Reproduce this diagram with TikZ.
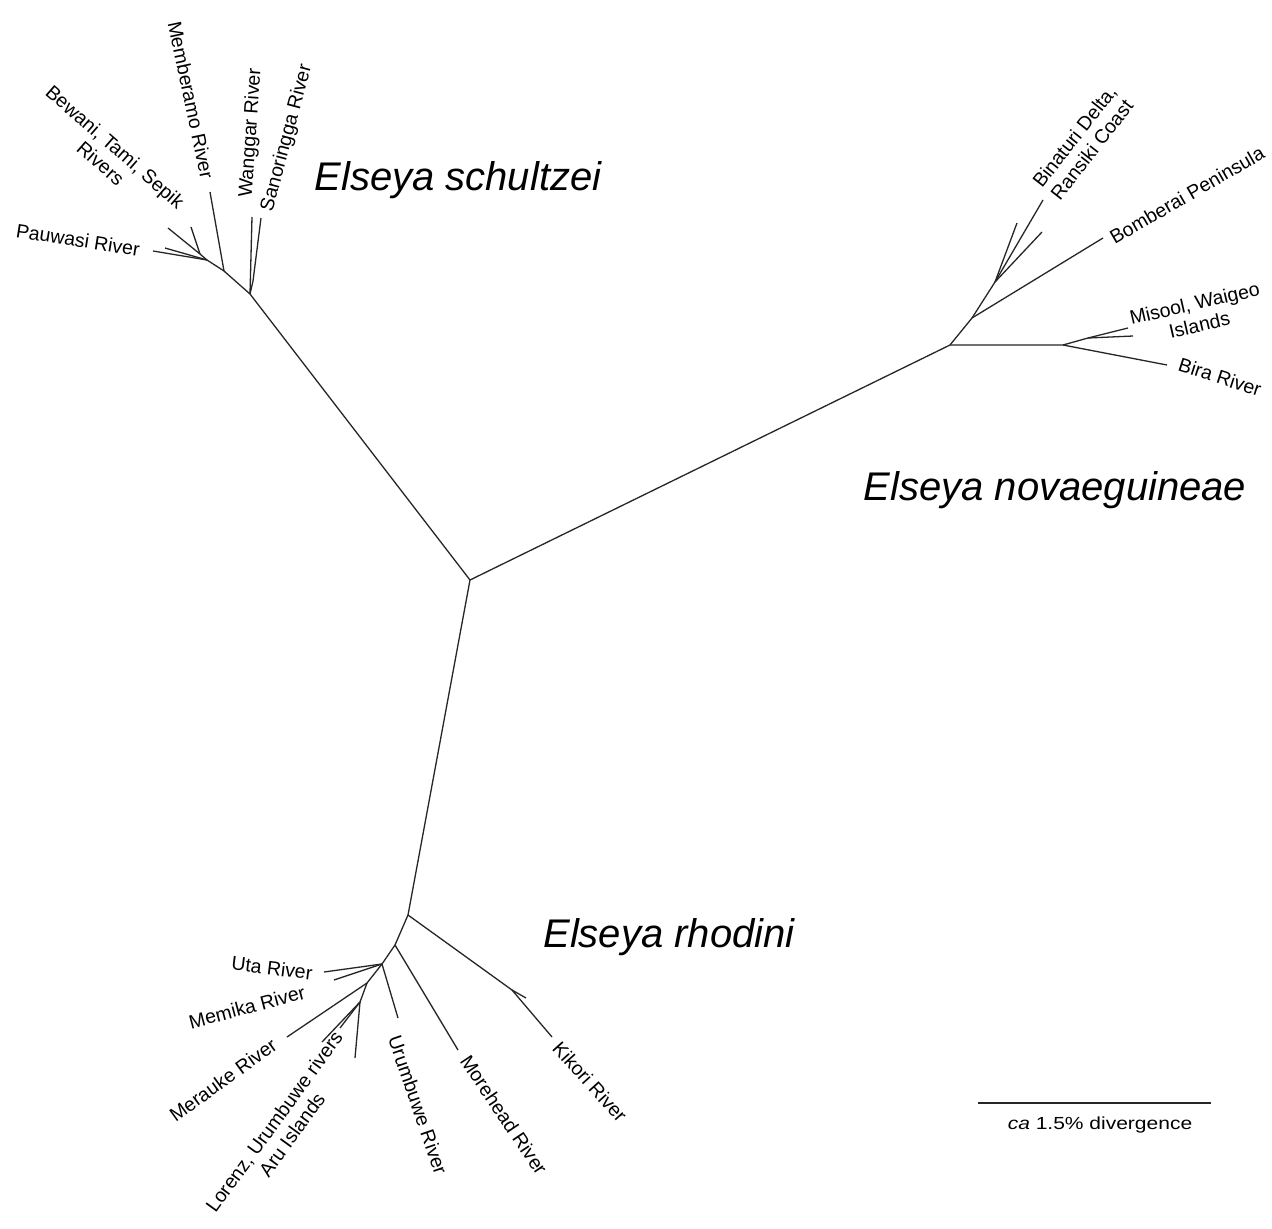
\documentclass[tikz,border=0pt]{standalone}
\usepackage{fontspec}
\setmainfont{Liberation Sans}
\begin{document}
\begin{tikzpicture}[x=1pt,y=-1pt,
  br/.style={draw=black!85, line width=1.3pt},
  lab/.style={font=\fontsize{19.5}{22}\selectfont, inner sep=0pt, align=center},
  sp/.style={font=\fontsize{40}{44}\selectfont\itshape, inner sep=0pt},
  scl/.style={font=\fontsize{17.5}{20}\selectfont, inner sep=0pt, xscale=1.2}]
\useasboundingbox[fill=white] (0,0) rectangle (1272,1229);
% main nodes
\coordinate (C) at (470,580);
\coordinate (S) at (250,294);
\coordinate (N) at (950,345);
\coordinate (R) at (408,915);
% schultzei
\coordinate (A) at (224,271);
\coordinate (B) at (207,260);
\coordinate (B2) at (200,254);
\coordinate (S3) at (253,281);
\coordinate (lMam) at (210,192);
\coordinate (lWan) at (252,217);
\coordinate (lSan) at (261,218);
\coordinate (lPau) at (153,251);
\coordinate (lPau2) at (165,248);
\coordinate (lBew1) at (168,228);
\coordinate (lBew2) at (191,227);
% novaeguineae
\coordinate (N1) at (1063,345);
\coordinate (N1b) at (1088,338);
\coordinate (N2) at (972,318);
\coordinate (N3) at (995,282);
\coordinate (lMis1) at (1128,328);
\coordinate (lMis2) at (1133,336);
\coordinate (lBir) at (1167,365);
\coordinate (lBom) at (1103,238);
\coordinate (lBin1) at (1017,223);
\coordinate (lBin2) at (1042,232);
\coordinate (lBin3) at (1043,200);
% rhodini
\coordinate (R2) at (395,945);
\coordinate (R3) at (382,964);
\coordinate (R4) at (367,983);
\coordinate (R5) at (360,1002);
\coordinate (Kt) at (512,990);
\coordinate (lKik) at (552,1037);
\coordinate (lKik2) at (526,998);
\coordinate (lMor) at (458,1050);
\coordinate (lUru) at (398,1018);
\coordinate (lUta1) at (324,972);
\coordinate (lUta2) at (334,980);
\coordinate (lMer) at (287,1037);
\coordinate (lLor1) at (322,1042);
\coordinate (lLor2) at (340,1028);
\coordinate (lLor3) at (355,1058);
% branches
\draw[br] (C) -- (S);
\draw[br] (C) -- (N);
\draw[br] (C) -- (R);
\draw[br] (S) -- (A) -- (B) -- (B2) -- (lBew1);
\draw[br] (A) -- (lMam);
\draw[br] (B) -- (lPau);
\draw[br] (B) -- (lPau2);
\draw[br] (B2) -- (lBew2);
\draw[br] (S) -- (lWan);
\draw[br] (S) -- (S3) -- (lSan);
\draw[br] (N) -- (N1) -- (lBir);
\draw[br] (N1) -- (N1b) -- (lMis1);
\draw[br] (N1b) -- (lMis2);
\draw[br] (N) -- (N2) -- (lBom);
\draw[br] (N2) -- (N3) -- (lBin3);
\draw[br] (N3) -- (lBin1);
\draw[br] (N3) -- (lBin2);
\draw[br] (R) -- (Kt) -- (lKik);
\draw[br] (Kt) -- (lKik2);
\draw[br] (R) -- (R2) -- (lMor);
\draw[br] (R2) -- (R3) -- (lUru);
\draw[br] (R3) -- (lUta1);
\draw[br] (R3) -- (lUta2);
\draw[br] (R3) -- (R4) -- (lMer);
\draw[br] (R4) -- (R5) -- (lLor1);
\draw[br] (R5) -- (lLor2);
\draw[br] (R5) -- (lLor3);
% species labels
\node[sp] (tSch) at (458,180) {Elseya schultzei};
\node[sp] (tNov) at (1055,490) {Elseya novaeguineae};
\node[sp] (tRho) at (669,937) {Elseya rhodini};
% leaf labels
\node[lab, rotate=-9] (tPau) at (78,240) {Pauwasi River};
\node[lab, rotate=-41] (tBew) at (108,155) {Bewani, Tami, Sepik\\Rivers};
\node[lab, rotate=-78] (tMam) at (191,100) {Memberamo River};
\node[lab, rotate=86] (tWan) at (251,133) {Wanggar River};
\node[lab, rotate=75] (tSan) at (287,138) {Sanoringga River};
\node[lab, rotate=52] (tBin) at (1083,143) {Binaturi Delta,\\Ransiki Coast};
\node[lab, rotate=30] (tBom) at (1187,195) {Bomberai Peninsula};
\node[lab, rotate=13] (tMis) at (1197,314) {Misool, Waigeo\\Islands};
\node[lab, rotate=-18] (tBir) at (1220,377) {Bira River};
\node[lab, rotate=-7] (tUta) at (272,968) {Uta River};
\node[lab, rotate=15] (tMem) at (247,1007) {Memika River};
\node[lab, rotate=36] (tMer) at (223,1080) {Merauke River};
\node[lab, rotate=54] (tLor) at (283,1128) {Lorenz, Urumbuwe rivers\\Aru Islands};
\node[lab, rotate=-71] (tUru) at (418,1105) {Urumbuwe River};
\node[lab, rotate=-56] (tMor) at (504,1115) {Morehead River};
\node[lab, rotate=-48] (tKik) at (590,1082) {Kikori River};
% scale bar
\coordinate (sb1) at (978,1103);
\coordinate (sb2) at (1211,1103);
\draw[draw=black!85, line width=1.8pt] (sb1) -- (sb2);
\node[scl] (tScale) at (1100,1125) {\textit{ca} 1.5\% divergence};
\end{tikzpicture}
\end{document}
